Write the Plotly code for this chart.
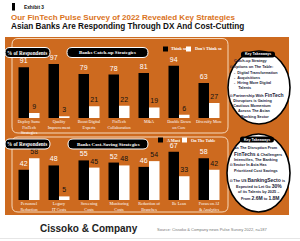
import plotly.graph_objects as go

W, H = 300, 241

# ---------------- data ----------------
top_categories = ["Deploy Same<br>FinTech<br>Strategies", "Quality<br>Improvement", "Boost Digital<br>Experts",
                  "FinTech<br>Collaboration", "M&A", "Double Down<br>on Core", "Diversify More"]
top_think_so = [91, 97, 79, 78, 81, 94, 63]
top_dont_think_so = [9, 3, 21, 22, 19, 6, 27]

bottom_categories = ["Personnel<br>Reduction", "Legacy<br>IT Costs", "Screening<br>Costs", "Monitoring<br>Costs",
                     "Reduction of<br>Branches", "Be Lean", "Focus on AI<br>& Analytics"]
bottom_a_must = [42, 48, 55, 52, 46, 67, 58]
bottom_on_table = [58, 5, 45, 48, 54, 33, 42]

ORANGE = "#CD6A1F"
TITLE_ORANGE = "#DA731C"
NAVY = "#1b1b38"
SANS = "Liberation Sans"
SERIF = "Liberation Serif"


def fx(px):
    return px / W


def fy(py):
    return 1 - py / H


def rr_path(x0, y0, x1, y1, r):
    def p(x, y):
        return f"{fx(x):.5f},{fy(y):.5f}"
    return (f"M {p(x0 + r, y0)} L {p(x1 - r, y0)} Q {p(x1, y0)} {p(x1, y0 + r)} "
            f"L {p(x1, y1 - r)} Q {p(x1, y1)} {p(x1 - r, y1)} L {p(x0 + r, y1)} "
            f"Q {p(x0, y1)} {p(x0, y1 - r)} L {p(x0, y0 + r)} Q {p(x0, y0)} {p(x0 + r, y0)} Z")


fig = go.Figure()

fig.add_trace(go.Bar(x=top_categories, y=top_think_so, name="Think so", marker=dict(color="black", line=dict(width=0)),
                     text=top_think_so, textposition="outside", cliponaxis=False, constraintext="none",
                     textfont=dict(family=SANS, size=7, color="white"), xaxis="x", yaxis="y", showlegend=False))
fig.add_trace(go.Bar(x=top_categories, y=top_dont_think_so, name="Don't Think so",
                     marker=dict(color="white", line=dict(width=0)),
                     text=top_dont_think_so, textposition="outside", cliponaxis=False, constraintext="none",
                     textfont=dict(family=SANS, size=7, color="#111"), xaxis="x", yaxis="y", showlegend=False))
fig.add_trace(go.Bar(x=bottom_categories, y=bottom_a_must, name="A Must", marker=dict(color="black", line=dict(width=0)),
                     text=bottom_a_must, textposition="outside", cliponaxis=False, constraintext="none",
                     textfont=dict(family=SANS, size=7, color="white"), xaxis="x2", yaxis="y2", showlegend=False))
fig.add_trace(go.Bar(x=bottom_categories, y=bottom_on_table, name="On The Table",
                     marker=dict(color="white", line=dict(width=0)),
                     text=bottom_on_table, textposition="outside", cliponaxis=False, constraintext="none",
                     textfont=dict(family=SANS, size=7, color="#111"), xaxis="x2", yaxis="y2", showlegend=False))

xdom = [fx(14), fx(224)]
xaxis_common = dict(domain=xdom, showgrid=False, zeroline=False, showline=False, ticks="",
                    tickfont=dict(family=SERIF, size=4.2, color="white"), fixedrange=True, tickangle=0)
yaxis_common = dict(range=[0, 100], visible=False, showgrid=False, zeroline=False, fixedrange=True)

shapes = []
annotations = []

shapes.append(dict(type="rect", xref="paper", yref="paper", x0=fx(5), x1=fx(289), y0=fy(37), y1=fy(215),
                   fillcolor=ORANGE, line=dict(width=0), layer="below"))
for (y0, y1) in [(38.5, 133), (137, 212)]:
    shapes.append(dict(type="path", xref="paper", yref="paper", path=rr_path(12, y0, 228, y1, 6),
                       line=dict(color="#F6D9BC", width=1), fillcolor="rgba(0,0,0,0)", layer="below"))

pills = [(5, 50, 47.5, 57.5, "% of Respondents", 5.2),
         (67, 148, 47.5, 57.5, "Banks Catch-up Strategies", 5.0),
         (5, 50, 139, 149, "% of Respondents", 5.2),
         (68, 148, 139, 149, "Banks Cost-Saving Strategies", 5.0)]
for x0, x1, y0, y1, t, s in pills:
    shapes.append(dict(type="path", xref="paper", yref="paper", path=rr_path(x0, y0, x1, y1, (y1 - y0) / 2),
                       fillcolor="black", line=dict(color="white", width=1), layer="above"))
    annotations.append(dict(xref="paper", yref="paper", x=fx((x0 + x1) / 2), y=fy((y0 + y1) / 2), text=f"<b>{t}</b>",
                            showarrow=False, xanchor="center", yanchor="middle",
                            font=dict(family=SERIF, size=s, color="white")))

legends = [(163, 49, "Think so", 186, "Don't Think so"),
           (158, 140, "A Must", 182, "On The Table")]
for xb, yc, t1, xw, t2 in legends:
    shapes.append(dict(type="rect", xref="paper", yref="paper", x0=fx(xb), x1=fx(xb + 5), y0=fy(yc - 2.5),
                       y1=fy(yc + 2.5), fillcolor="black", line=dict(width=0)))
    shapes.append(dict(type="rect", xref="paper", yref="paper", x0=fx(xw), x1=fx(xw + 5), y0=fy(yc - 2.5),
                       y1=fy(yc + 2.5), fillcolor="white", line=dict(width=0)))
    annotations.append(dict(xref="paper", yref="paper", x=fx(xb + 6.5), y=fy(yc), text=f"<b>{t1}</b>", showarrow=False,
                            xanchor="left", yanchor="middle", font=dict(family=SERIF, size=4.2, color="white")))
    annotations.append(dict(xref="paper", yref="paper", x=fx(xw + 6.5), y=fy(yc), text=f"<b>{t2}</b>", showarrow=False,
                            xanchor="left", yanchor="middle", font=dict(family=SERIF, size=4.2, color="white")))

circles = [(228, 290, 51, 124, 241, 275, 51.5, 57.5), (227, 290, 134, 212, 240, 274, 136.5, 142.5)]
for cx0, cx1, cy0, cy1, hx0, hx1, hy0, hy1 in circles:
    shapes.append(dict(type="circle", xref="paper", yref="paper", x0=fx(cx0), x1=fx(cx1), y0=fy(cy0), y1=fy(cy1),
                       fillcolor="white", line=dict(color="black", width=1.6), layer="above"))
    shapes.append(dict(type="path", xref="paper", yref="paper", path=rr_path(hx0, hy0, hx1, hy1, 2.5),
                       fillcolor="black", line=dict(width=0), layer="above"))
    annotations.append(dict(xref="paper", yref="paper", x=fx((hx0 + hx1) / 2), y=fy((hy0 + hy1) / 2),
                            text="<b>Key Takeaways</b>", showarrow=False, xanchor="center", yanchor="middle",
                            font=dict(family=SANS, size=3.6, color="white")))

big = "<span style='font-size:5px'>{}</span>"
top_lines = [
    ("Catch-up Strategy", 232, 61.3),
    ("◘ Options on The Table:", 228, 67.3),
    ("-  Digital Transformation", 232, 72.8),
    ("-  Acquisitions", 232, 78.0),
    ("-  Hiring More Digital", 232, 83.2),
    ("    Talents", 232, 88.3),
    ("◘ Partnership With " + big.format("FinTech"), 228, 95.2),
    ("   Disruptors is Gaining", 228, 100.7),
    ("   Cautious Momentum", 228, 105.8),
    ("Across The Asian", 236, 111.3),
    ("Banking Sector", 239, 117.3),
]
bottom_lines = [
    ("As The Disruption From", 232, 148.3),
    (big.format("FinTechs") + " & Challengers", 232, 154.0),
    ("Intensifies, The Banking", 232, 160.2),
    ("◘ Sector In Asia Has", 227.5, 165.3),
    ("Prioritized Cost Savings", 232, 170.7),
    ("◘ The US " + big.format("BankingSecto") + " is", 227.5, 179.6),
    ("Expected to Let Go " + big.format("30%"), 234, 186.3),
    ("of its Talents by 2025 –", 236, 192.0),
    ("From " + big.format("2.6M") + " to " + big.format("1.8M"), 239, 198.0),
]
for t, x, y in top_lines + bottom_lines:
    annotations.append(dict(xref="paper", yref="paper", x=fx(x), y=fy(y), text=f"<b>{t}</b>", showarrow=False,
                            xanchor="left", yanchor="middle", align="left",
                            font=dict(family=SANS, size=3.8, color=NAVY)))

# titles
shapes.append(dict(type="rect", xref="paper", yref="paper", x0=fx(12), x1=fx(15), y0=fy(3), y1=fy(10.5),
                   fillcolor="black", line=dict(width=0)))
annotations.append(dict(xref="paper", yref="paper", x=fx(22), y=fy(7.2), text="<b>Exhibit 3</b>", showarrow=False,
                        xanchor="left", yanchor="middle", font=dict(family=SANS, size=4.8, color="#111")))
annotations.append(dict(xref="paper", yref="paper", x=fx(9), y=fy(17.2),
                        text="<b>Our FinTech Pulse Survey of 2022 Revealed Key Strategies</b>", showarrow=False,
                        xanchor="left", yanchor="middle", font=dict(family=SANS, size=8, color=TITLE_ORANGE)))
annotations.append(dict(xref="paper", yref="paper", x=fx(9), y=fy(26.2),
                        text="<b>Asian Banks Are Responding Through DX And Cost-Cutting</b>", showarrow=False,
                        xanchor="left", yanchor="middle", font=dict(family=SANS, size=8.2, color="#111")))

# footer
annotations.append(dict(xref="paper", yref="paper", x=fx(38), y=fy(228), text="<b>Cissoko &amp; Company</b>",
                        showarrow=False, xanchor="left", yanchor="middle",
                        font=dict(family=SANS, size=10, color="#222")))
annotations.append(dict(xref="paper", yref="paper", x=fx(155), y=fy(229),
                        text="Source: Cissoko &amp; Company news Pulse Survey 2022, n=187", showarrow=False,
                        xanchor="left", yanchor="middle", font=dict(family=SANS, size=4, color="#777")))
shapes.append(dict(type="line", xref="paper", yref="paper", x0=0, x1=1, y0=fy(238.5), y1=fy(238.5),
                   line=dict(color="#e6e6e6", width=1)))

fig.update_layout(
    width=W, height=H, margin=dict(l=0, r=0, t=0, b=0), autosize=False,
    paper_bgcolor="white", plot_bgcolor="rgba(0,0,0,0)",
    barmode="group", bargap=0.3, bargroupgap=0,
    xaxis=dict(xaxis_common, anchor="y"),
    yaxis=dict(yaxis_common, domain=[fy(118), fy(62.3)], anchor="x"),
    xaxis2=dict(xaxis_common, anchor="y2"),
    yaxis2=dict(yaxis_common, domain=[fy(200), fy(128)], anchor="x2"),
    shapes=shapes, annotations=annotations, showlegend=False,
)

fig.write_html("out.html")
